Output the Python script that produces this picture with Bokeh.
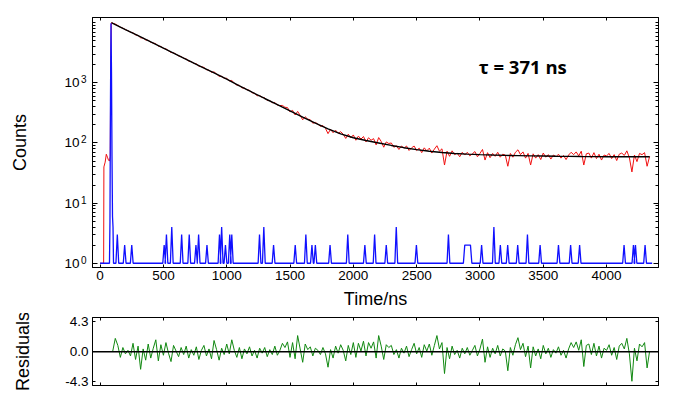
from bokeh.plotting import figure
from bokeh.models import Range1d, FixedTicker, LinearAxis, LogAxis, Label, Span, CustomJSTickFormatter
from bokeh.layouts import column
from bokeh.embed import file_html
from bokeh.resources import INLINE

# ---------------- data ----------------
# sample decay: rising edge before the 20 ns grid
red_rise_t = [0, 28, 30, 40, 49, 58, 66, 74, 80, 84, 88, 90]
red_rise_counts = [1, 1, 40, 48, 65, 58, 52, 50, 60, 2000, 9000, 10000]

# sample decay on a 20 ns channel grid, starting at 100 ns
red_t_start, red_t_step = 100, 20
red_counts = [
    9775, 9494, 8957, 8398, 8126, 7665, 7362, 6948, 6781, 6280,
    6129, 5604, 5551, 5173, 5101, 4724, 4594, 4467, 4066, 4026,
    3745, 3675, 3424, 3193, 3169, 2984, 2801, 2735, 2562, 2500,
    2300, 2253, 2110, 2069, 1893, 1858, 1804, 1658, 1619, 1492,
    1520, 1401, 1283, 1283, 1191, 1188, 1081, 1092, 993, 914,
    912, 822, 821, 763, 753, 683, 671, 610, 616, 571,
    563, 508, 507, 468, 472, 425, 419, 421, 392, 388,
    328, 349, 292, 335, 288, 243, 273, 249, 244, 213,
    220, 206, 189, 195, 175, 143, 169, 148, 163, 145,
    154, 140, 119, 140, 122, 136, 111, 130, 116, 128,
    104, 122, 111, 118, 93, 123, 106, 85, 104, 98,
    100, 85, 90, 78, 89, 82, 89, 75, 83, 89,
    75, 82, 69, 83, 74, 82, 68, 79, 90, 73,
    80, 43, 73, 60, 74, 64, 68, 59, 70, 63,
    70, 61, 66, 72, 59, 67, 78, 52, 69, 57,
    67, 60, 70, 58, 65, 63, 41, 67, 58, 70,
    77, 64, 71, 56, 67, 43, 66, 56, 64, 53,
    68, 58, 64, 54, 63, 59, 65, 56, 62, 53,
    63, 70, 64, 71, 61, 73, 43, 66, 68, 56,
    69, 55, 65, 52, 63, 61, 67, 55, 64, 51,
    65, 68, 62, 74, 57, 33, 63, 49, 67, 64,
    69, 41, 60,
]

# fitted curve (black)
fit_t = [90, 100, 200, 300, 400, 500, 600, 700, 800, 900, 1000, 1100, 1200, 1300,
         1400, 1500, 1600, 1700, 1800, 1900, 2000, 2100, 2200, 2300, 2400, 2500,
         2600, 2700, 2800, 2900, 3000, 3100, 3200, 3300, 3400, 3500, 3600, 3700,
         3800, 3900, 4000, 4100, 4200, 4300, 4340]
fit_counts = [10000, 9765, 7691, 6067, 4786, 3776, 2979, 2344, 1849, 1459, 1151, 894,
              699, 549, 435, 343, 268, 213, 172, 142, 122, 110, 100, 91, 83.5, 77.5,
              73, 69.5, 67, 65.2, 64, 63, 62.2, 61.6, 61.1, 60.6, 60.1, 59.9, 59.6,
              59.4, 59.1, 59, 59, 59, 59]

# instrument response (blue): main peak, then single-count spikes
irf_peak_t = [0, 74, 78, 82, 86, 90, 94, 98, 102, 106]
irf_peak_counts = [1, 1, 5, 500, 9800, 1500, 60, 6, 4, 1]
irf_spike_start = [136, 194, 250, 506, 524, 566, 644, 704, 757, 778, 844, 943, 960, 990,
                   1024, 1040, 1259, 1293, 1370, 1541, 1625, 1673, 1700, 1816, 1956,
                   2091, 2168, 2260, 2339, 2498, 2751, 2880, 3013, 3110, 3161, 3219,
                   3298, 3375, 3475, 3620, 3716, 3787, 4138, 4212, 4228, 4304]
irf_spike_end = [136, 194, 250, 506, 524, 566, 644, 704, 757, 778, 844, 943, 960, 990,
                 1024, 1040, 1259, 1293, 1370, 1541, 1625, 1673, 1700, 1816, 1956,
                 2091, 2168, 2260, 2339, 2498, 2751, 2925, 3013, 3110, 3161, 3219,
                 3298, 3375, 3475, 3620, 3716, 3787, 4138, 4212, 4228, 4304]
irf_spike_counts = [3, 2, 2, 2, 3, 4, 3, 3, 2, 3, 2, 3, 4, 2, 3, 3, 3, 4, 2, 2, 3, 2, 2,
                    2, 3, 2, 3, 2, 4, 2, 3, 2, 2, 4, 2, 2, 2, 3, 2, 2, 2, 2, 2, 2, 2, 2]
irf_end_t = 4360

# weighted residuals on the same 20 ns grid
resid_t_start, resid_t_step = 100, 20
residuals = [
    0.1, 1.9, 0.9, -0.8, 0.6, -0.3, 0.2, -0.6, 1.2, -1.1,
    0.8, -2.5, 0.4, -1.2, 1.1, -0.9, 0.5, 1.7, -1.3, 1.0,
    -0.5, 1.3, -0.2, -1.4, 0.9, 0.1, -0.7, 0.6, -0.4, 0.8,
    -0.9, 0.3, -0.5, 0.7, -1.1, 0.2, 0.9, -0.6, 0.4, -1.0,
    1.6, 0.3, -1.2, 0.5, -0.4, 1.1, -0.3, 1.7, 0.2, -0.8,
    0.6, -1.0, 0.4, -0.3, 0.7, -0.6, 0.2, -0.9, 0.5, -0.2,
    0.6, -0.7, 0.3, -0.4, 0.8, -0.5, 0.2, 1.2, 0.6, 1.4,
    -0.8, 1.3, -1.0, 2.3, 0.4, -1.5, 1.1, 0.3, 0.7, -0.6,
    0.5, 0.2, -0.4, 0.6, -0.3, -2.2, 0.3, -0.9, 0.8, -0.2,
    1.0, 0.2, -1.3, 0.9, -0.4, 1.3, -0.8, 1.2, 0.1, 1.5,
    -0.6, 1.3, 0.5, 1.4, -0.9, 2.3, 0.8, -1.1, 1.0, 0.6,
    0.9, -0.4, 0.3, -0.9, 0.5, -0.2, 0.8, -0.7, 0.3, 1.2,
    -0.3, 0.6, -0.8, 1.0, 0.1, 1.1, -0.5, 0.9, 2.3, 0.4,
    1.3, -3.1, 0.6, -1.0, 0.8, -0.4, 0.2, -0.9, 0.5, -0.3,
    0.6, -0.5, 0.2, 0.9, -0.6, 0.4, 1.8, -1.5, 0.7, -0.8,
    0.5, -0.3, 0.9, -0.6, 0.4, 0.1, -2.7, 0.6, -0.5, 1.0,
    2.0, 0.3, 1.2, -0.7, 0.8, -2.3, 0.7, -0.6, 0.4, -1.0,
    0.9, -0.3, 0.5, -0.8, 0.3, -0.2, 0.7, -0.5, 0.2, -0.9,
    0.4, 1.3, 0.6, 1.4, 0.2, 1.7, -2.1, 0.9, 1.1, -0.4,
    1.2, -0.6, 0.8, -0.9, 0.5, 0.2, 1.0, -0.5, 0.6, -1.1,
    0.8, 1.2, 0.4, 1.9, -0.3, -4.2, 0.5, -1.3, 1.1, 0.7,
    1.3, -2.3, 0.1,
]

# axes / ticks
x_ticks = [0, 500, 1000, 1500, 2000, 2500, 3000, 3500, 4000]
y_ticks = [1, 10, 100, 1000]
y_tick_base = "10"
y_tick_exponents = ["0", "1", "2", "3"]
y_exponent_pos = [1.143, 11.43, 114.3, 1143]   # exponents sit slightly above each decade
y_minor_mult = [2, 3, 4, 5, 6, 7, 8, 9]
res_ticks = [-4.3, 0.0, 4.3]
res_tick_labels = ["-4.3", "0.0", "4.3"]
annotation = "\u03c4 = 371 ns"

# ---------------- build series ----------------
red_t = red_rise_t + [red_t_start + i * red_t_step for i in range(len(red_counts))]
red_y = red_rise_counts + red_counts

irf_t = list(irf_peak_t)
irf_y = list(irf_peak_counts)
for s, e, h in zip(irf_spike_start, irf_spike_end, irf_spike_counts):
    irf_t += [s - 11, s, e, e + 11]
    irf_y += [1, h, h, 1]
irf_t.append(irf_end_t)
irf_y.append(1)

res_t = [resid_t_start + i * resid_t_step for i in range(len(residuals))]

y_minor = [m * 10 ** d for d in range(0, 4) for m in y_minor_mult] + [10000]

FONT = "Liberation Sans"
TICK_FS = "13.5px"
LABEL_FS = "18px"


def style_axis(ax, tick_in, minor_in=0):
    ax.axis_line_color = "black"
    ax.axis_line_width = 1
    ax.major_tick_in = tick_in
    ax.major_tick_out = 0
    ax.minor_tick_in = minor_in
    ax.minor_tick_out = 0
    ax.major_tick_line_color = "black"
    ax.minor_tick_line_color = "black"
    ax.major_label_text_font = FONT
    ax.major_label_text_font_size = TICK_FS
    ax.major_label_text_color = "black"
    ax.axis_label_text_font = FONT
    ax.axis_label_text_font_size = LABEL_FS
    ax.axis_label_text_font_style = "normal"
    ax.axis_label_text_color = "black"


def hide_labels(ax):
    ax.formatter = CustomJSTickFormatter(code="return ''")
    ax.major_label_text_font_size = "1px"
    ax.major_label_standoff = 0


def label_only(ax):
    ax.axis_line_color = None
    ax.major_tick_in = 0
    ax.major_tick_out = 0
    ax.minor_tick_in = 0
    ax.minor_tick_out = 0


x_range = Range1d(-60, 4410)

# ---------------- main plot ----------------
p1 = figure(frame_width=566, frame_height=250, x_range=x_range,
            y_range=Range1d(0.85, 12200), y_axis_type="log",
            output_backend="svg", toolbar_location=None,
            min_border_left=92, min_border_right=15, min_border_top=17,
            min_border_bottom=46)
p1.grid.visible = False
p1.outline_line_color = "black"
p1.outline_line_width = 1

p1.line(red_t, red_y, line_color="#f01010", line_width=1)
p1.line(fit_t, fit_counts, line_color="black", line_width=1.4)
p1.line(irf_t, irf_y, line_color="#1010ff", line_width=1.3)

xa = p1.xaxis[0]
xa.ticker = FixedTicker(ticks=x_ticks)
style_axis(xa, 3)
xa.axis_label = "Time/ns"
xa.major_label_standoff = 3
xa.axis_label_standoff = 6

# innermost left axis: tick marks only
ya = p1.yaxis[0]
ya.ticker = FixedTicker(ticks=y_ticks, minor_ticks=y_minor)
style_axis(ya, 5, 3)
hide_labels(ya)

# exponents (small, raised)
ya_exp = LogAxis(ticker=FixedTicker(ticks=y_exponent_pos))
style_axis(ya_exp, 0)
label_only(ya_exp)
ya_exp.major_label_overrides = dict(zip(y_exponent_pos, y_tick_exponents))
ya_exp.major_label_text_font_size = "10px"
ya_exp.major_label_standoff = 6
p1.add_layout(ya_exp, "left")

# base "10"
ya_base = LogAxis(ticker=FixedTicker(ticks=y_ticks))
style_axis(ya_base, 0)
label_only(ya_base)
ya_base.major_label_overrides = {t: y_tick_base for t in y_ticks}
ya_base.major_label_standoff = -2
ya_base.axis_label = "Counts"
ya_base.axis_label_standoff = 31
p1.add_layout(ya_base, "left")

top1 = LinearAxis(ticker=FixedTicker(ticks=x_ticks))
style_axis(top1, 3)
hide_labels(top1)
p1.add_layout(top1, "above")

right1 = LogAxis(ticker=FixedTicker(ticks=y_ticks, minor_ticks=y_minor))
style_axis(right1, 5, 3)
hide_labels(right1)
p1.add_layout(right1, "right")

p1.add_layout(Label(x=2990, y=1870, text=annotation, text_font="Open Sans",
                    text_font_style="bold", text_font_size="18.5px",
                    text_color="black", text_baseline="alphabetic"))

# ---------------- residual plot ----------------
p2 = figure(frame_width=566, frame_height=68, x_range=x_range,
            y_range=Range1d(-4.8, 4.87),
            output_backend="svg", toolbar_location=None,
            min_border_left=92, min_border_right=15, min_border_top=4,
            min_border_bottom=8)
p2.grid.visible = False
p2.outline_line_color = "black"
p2.outline_line_width = 1

p2.add_layout(Span(location=0, dimension="width", line_color="black", line_width=1.3))
p2.line(res_t, residuals, line_color="#118811", line_width=1)

xb = p2.xaxis[0]
xb.ticker = FixedTicker(ticks=x_ticks)
style_axis(xb, 3)
hide_labels(xb)

yb = p2.yaxis[0]
yb.ticker = FixedTicker(ticks=res_ticks)
style_axis(yb, 3)
yb.major_label_overrides = dict(zip(res_ticks, res_tick_labels))
yb.axis_label = "Residuals"
yb.major_label_standoff = 4
yb.axis_label_standoff = 29

top2 = LinearAxis(ticker=FixedTicker(ticks=x_ticks))
style_axis(top2, 3)
hide_labels(top2)
p2.add_layout(top2, "above")

right2 = LinearAxis(ticker=FixedTicker(ticks=res_ticks))
style_axis(right2, 3)
hide_labels(right2)
p2.add_layout(right2, "right")

layout = column(p1, p2)
open("out.html", "w").write(file_html(layout, INLINE))
